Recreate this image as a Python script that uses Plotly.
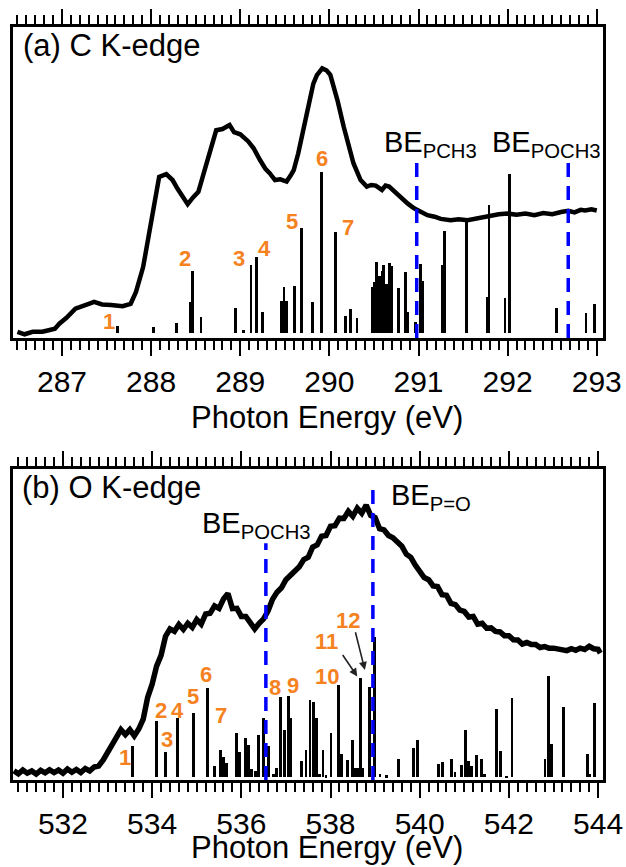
import plotly.graph_objects as go

# ---------------- (a) C K-edge ----------------
c_energy = [286.50, 286.58, 286.67, 286.78, 286.85, 286.92, 286.97, 287.05, 287.15, 287.22,
            287.30, 287.36, 287.45, 287.55, 287.68, 287.77, 287.83, 287.91, 288.02, 288.09,
            288.17, 288.24, 288.30, 288.34, 288.41, 288.47, 288.53, 288.60, 288.66, 288.73,
            288.80, 288.88, 288.93, 289.00, 289.09, 289.15, 289.22, 289.28, 289.33, 289.39,
            289.45, 289.52, 289.57, 289.60, 289.65, 289.73, 289.78, 289.82, 289.86, 289.92,
            289.97, 290.01, 290.05, 290.09, 290.16, 290.22, 290.27, 290.35, 290.42, 290.47,
            290.52, 290.59, 290.63, 290.67, 290.73, 290.80, 290.88, 290.95, 291.02, 291.10,
            291.18, 291.25, 291.36, 291.45, 291.55, 291.65, 291.78, 291.90, 292.00, 292.10,
            292.20, 292.30, 292.40, 292.50, 292.60, 292.68, 292.75, 292.82, 292.87, 292.94,
            293.00]
c_intensity = [0.020, 0.012, 0.020, 0.020, 0.025, 0.030, 0.046, 0.065, 0.094, 0.100,
               0.110, 0.116, 0.108, 0.106, 0.102, 0.110, 0.148, 0.228, 0.400, 0.518,
               0.527, 0.508, 0.478, 0.462, 0.430, 0.452, 0.470, 0.540, 0.604, 0.668,
               0.672, 0.685, 0.662, 0.655, 0.632, 0.610, 0.573, 0.545, 0.530, 0.508,
               0.510, 0.503, 0.525, 0.540, 0.593, 0.690, 0.765, 0.818, 0.845, 0.867,
               0.860, 0.846, 0.810, 0.765, 0.680, 0.610, 0.562, 0.508, 0.487, 0.492,
               0.490, 0.476, 0.490, 0.487, 0.470, 0.454, 0.432, 0.417, 0.405, 0.395,
               0.390, 0.383, 0.379, 0.382, 0.379, 0.385, 0.390, 0.398, 0.400, 0.396,
               0.400, 0.395, 0.402, 0.398, 0.405, 0.409, 0.404, 0.412, 0.410, 0.414,
               0.410]

c_stick_energy = [287.62, 288.03, 288.28, 288.44, 288.46, 288.56, 288.95, 289.04, 289.12, 289.18,
                  289.25, 289.46, 289.49, 289.52, 289.61, 289.69, 289.81, 289.91, 290.07, 290.18,
                  290.24, 290.31, 290.48, 290.51, 290.53, 290.56, 290.59, 290.61, 290.64, 290.67,
                  290.70, 290.78, 290.85, 290.88, 290.97, 291.02, 291.05, 291.27, 291.29, 291.54,
                  291.77, 291.79, 291.97, 292.02, 292.55, 292.88, 292.97]
c_stick_top = [0.039, 0.036, 0.047, 0.117, 0.216, 0.069, 0.095, 0.025, 0.235, 0.259,
               0.084, 0.118, 0.164, 0.118, 0.168, 0.355, 0.117, 0.535, 0.342, 0.070,
               0.093, 0.064, 0.165, 0.180, 0.245, 0.200, 0.215, 0.235, 0.175, 0.240,
               0.230, 0.160, 0.213, 0.085, 0.052, 0.238, 0.183, 0.235, 0.344, 0.374,
               0.133, 0.428, 0.128, 0.527, 0.095, 0.079, 0.108]

c_peak_labels = ["1", "2", "3", "4", "5", "6", "7"]
c_peak_label_x = [287.53, 288.38, 288.99, 289.27, 289.58, 289.92, 290.21]
c_peak_label_y = [0.052, 0.256, 0.257, 0.289, 0.376, 0.576, 0.354]

c_be_labels = ["BE<sub>PCH3</sub>", "BE<sub>POCH3</sub>"]
c_be_energy = [290.98, 292.68]
c_be_line_top = [0.567, 0.567]
c_be_text_x = [290.59, 291.80]
c_be_text_y = [0.624, 0.624]

# ---------------- (b) O K-edge ----------------
o_energy = [530.9, 531.0, 531.1, 531.2, 531.3, 531.4, 531.5, 531.6, 531.7, 531.8,
            531.9, 532.0, 532.1, 532.2, 532.3, 532.4, 532.5, 532.6, 532.7, 532.8,
            532.9, 533.0, 533.1, 533.2, 533.3, 533.4, 533.5, 533.6, 533.7, 533.8,
            533.9, 534.0, 534.1, 534.2, 534.3, 534.4, 534.5, 534.6, 534.7, 534.8,
            534.9, 535.0, 535.1, 535.2, 535.3, 535.4, 535.5, 535.6, 535.7, 535.8,
            535.9, 536.0, 536.1, 536.2, 536.3, 536.4, 536.5, 536.6, 536.7, 536.8,
            536.9, 537.0, 537.1, 537.2, 537.3, 537.4, 537.5, 537.6, 537.7, 537.8,
            537.9, 538.0, 538.1, 538.2, 538.3, 538.4, 538.5, 538.6, 538.7, 538.8,
            538.9, 539.0, 539.1, 539.2, 539.3, 539.4, 539.5, 539.6, 539.7, 539.8,
            539.9, 540.0, 540.1, 540.2, 540.3, 540.4, 540.5, 540.6, 540.7, 540.8,
            540.9, 541.0, 541.1, 541.2, 541.3, 541.4, 541.5, 541.6, 541.7, 541.8,
            541.9, 542.0, 542.1, 542.2, 542.3, 542.4, 542.5, 542.6, 542.7, 542.8,
            542.9, 543.0, 543.1, 543.2, 543.3, 543.4, 543.5, 543.6, 543.7, 543.8,
            543.9, 544.0, 544.05]
o_intensity = [0.030, 0.020, 0.032, 0.022, 0.029, 0.019, 0.031, 0.023, 0.033, 0.024,
               0.032, 0.022, 0.035, 0.025, 0.034, 0.024, 0.037, 0.029, 0.042, 0.045,
               0.064, 0.088, 0.114, 0.138, 0.162, 0.146, 0.162, 0.142, 0.164, 0.196,
               0.266, 0.308, 0.366, 0.401, 0.462, 0.486, 0.478, 0.500, 0.484, 0.504,
               0.491, 0.516, 0.501, 0.534, 0.536, 0.560, 0.552, 0.582, 0.600, 0.551,
               0.552, 0.526, 0.526, 0.506, 0.486, 0.504, 0.518, 0.544, 0.581, 0.604,
               0.618, 0.644, 0.658, 0.676, 0.686, 0.709, 0.716, 0.749, 0.756, 0.784,
               0.786, 0.816, 0.818, 0.842, 0.841, 0.864, 0.848, 0.874, 0.858, 0.884,
               0.851, 0.844, 0.808, 0.804, 0.786, 0.779, 0.766, 0.752, 0.726, 0.716,
               0.691, 0.672, 0.651, 0.644, 0.624, 0.622, 0.596, 0.594, 0.568, 0.564,
               0.546, 0.542, 0.524, 0.526, 0.501, 0.504, 0.488, 0.489, 0.478, 0.476,
               0.464, 0.464, 0.451, 0.450, 0.437, 0.442, 0.436, 0.436, 0.426, 0.429,
               0.424, 0.424, 0.420, 0.420, 0.416, 0.422, 0.417, 0.424, 0.420, 0.430,
               0.422, 0.420, 0.408]

o_stick_energy = [533.56, 534.09, 534.30, 534.57, 534.92, 535.24, 535.39, 535.54, 535.60, 535.67,
                  535.90, 535.95, 536.10, 536.16, 536.23, 536.31, 536.38, 536.49, 536.61, 536.72,
                  536.78, 536.87, 536.96, 537.05, 537.11, 537.35, 537.45, 537.54, 537.61, 537.69,
                  537.75, 537.83, 537.90, 538.01, 538.18, 538.24, 538.39, 538.49, 538.54, 538.61,
                  538.68, 538.72, 538.87, 538.98, 539.11, 539.25, 539.52, 539.86, 539.95, 540.42,
                  540.52, 540.72, 540.79, 540.94, 541.02, 541.09, 541.17, 541.28, 541.39, 541.45,
                  541.73, 541.82, 541.94, 542.07, 542.81, 542.89, 542.96, 543.22, 543.76, 543.82,
                  543.91]
o_stick_top = [0.109, 0.190, 0.089, 0.198, 0.214, 0.295, 0.045, 0.096, 0.075, 0.056,
               0.150, 0.091, 0.136, 0.113, 0.034, 0.030, 0.145, 0.198, 0.109, 0.020,
               0.040, 0.266, 0.162, 0.270, 0.200, 0.060, 0.097, 0.257, 0.252, 0.200,
               0.020, 0.097, 0.015, 0.152, 0.305, 0.085, 0.064, 0.129, 0.040, 0.040,
               0.327, 0.040, 0.300, 0.461, 0.020, 0.015, 0.068, 0.103, 0.127, 0.052,
               0.058, 0.066, 0.025, 0.048, 0.161, 0.062, 0.045, 0.079, 0.066, 0.020,
               0.227, 0.093, 0.010, 0.265, 0.068, 0.334, 0.116, 0.236, 0.085, 0.020,
               0.246]

o_peak_labels = ["1", "2", "3", "4", "5", "6", "7", "8", "9", "10", "11", "12"]
o_peak_label_x = [533.39, 534.19, 534.33, 534.57, 534.92, 535.21, 535.54, 536.75, 537.16, 537.92, 537.92, 538.39]
o_peak_label_y = [0.071, 0.225, 0.129, 0.225, 0.268, 0.338, 0.209, 0.296, 0.305, 0.332, 0.445, 0.514]

o_arrow_tail_x = [538.25, 538.55]
o_arrow_tail_y = [0.407, 0.480]
o_arrow_head_x = [538.60, 538.77]
o_arrow_head_y = [0.333, 0.354]

o_be_labels = ["BE<sub>POCH3</sub>", "BE<sub>P=O</sub>"]
o_be_energy = [536.55, 538.95]
o_be_line_top = [0.761, 0.960]
o_be_text_x = [535.07, 539.30]
o_be_text_y = [0.82, 0.91]

panel_titles = ["(a) C K-edge", "(b) O K-edge"]
x_title = "Photon Energy (eV)"

# ---------------- styles ----------------
FONT = "Liberation Sans, Arial, sans-serif"
ORANGE = "#F5821F"
BLUE = "#0000FF"
C_BASE = 0.016
O_BASE = 0.009

fig = go.Figure()

# sticks
fig.add_trace(go.Bar(x=c_stick_energy, y=[t - C_BASE for t in c_stick_top], base=C_BASE,
                     width=0.032, marker=dict(color="black", line=dict(width=0)),
                     xaxis="x", yaxis="y", showlegend=False))
fig.add_trace(go.Bar(x=o_stick_energy, y=[t - O_BASE for t in o_stick_top], base=O_BASE,
                     width=0.064, marker=dict(color="black", line=dict(width=0)),
                     xaxis="x2", yaxis="y2", showlegend=False))

# spectra
fig.add_trace(go.Scatter(x=c_energy, y=c_intensity, mode="lines",
                         line=dict(color="black", width=4.5), xaxis="x", yaxis="y", showlegend=False))
fig.add_trace(go.Scatter(x=o_energy, y=o_intensity, mode="lines",
                         line=dict(color="black", width=5.5), xaxis="x2", yaxis="y2", showlegend=False))

# BE dashed lines
for e, top in zip(c_be_energy, c_be_line_top):
    fig.add_trace(go.Scatter(x=[e, e], y=[0, top], mode="lines",
                             line=dict(color=BLUE, width=3.5, dash="14px,9px"),
                             xaxis="x", yaxis="y", showlegend=False))
for e, top in zip(o_be_energy, o_be_line_top):
    fig.add_trace(go.Scatter(x=[e, e], y=[0, top], mode="lines",
                             line=dict(color=BLUE, width=3.5, dash="14px,9px"),
                             xaxis="x2", yaxis="y2", showlegend=False))

annotations = []
# panel titles
annotations.append(dict(x=286.54, y=0.942, xref="x", yref="y", text=panel_titles[0],
                        showarrow=False, xanchor="left", yanchor="middle",
                        font=dict(family=FONT, size=31, color="black")))
annotations.append(dict(x=531.04, y=0.939, xref="x2", yref="y2", text=panel_titles[1],
                        showarrow=False, xanchor="left", yanchor="middle",
                        font=dict(family=FONT, size=31, color="black")))
# x-axis titles (placed as paper annotations for exact position)
for ty in [0.482, -0.089]:
    annotations.append(dict(x=0.532, y=ty, xref="paper", yref="paper", text=x_title,
                            showarrow=False, xanchor="center", yanchor="middle",
                            font=dict(family=FONT, size=31, color="black")))
# peak labels
for t, x, y in zip(c_peak_labels, c_peak_label_x, c_peak_label_y):
    annotations.append(dict(x=x, y=y, xref="x", yref="y", text=f"<b>{t}</b>", showarrow=False,
                            xanchor="center", yanchor="middle",
                            font=dict(family=FONT, size=22, color=ORANGE)))
for t, x, y in zip(o_peak_labels, o_peak_label_x, o_peak_label_y):
    annotations.append(dict(x=x, y=y, xref="x2", yref="y2", text=f"<b>{t}</b>", showarrow=False,
                            xanchor="center", yanchor="middle",
                            font=dict(family=FONT, size=22, color=ORANGE)))
# arrows
for tx, ty, hx, hy in zip(o_arrow_tail_x, o_arrow_tail_y, o_arrow_head_x, o_arrow_head_y):
    annotations.append(dict(x=hx, y=hy, ax=tx, ay=ty, xref="x2", yref="y2", axref="x2", ayref="y2",
                            text="", showarrow=True, arrowhead=2, arrowsize=1, arrowwidth=1.6,
                            arrowcolor="#222222"))
# BE labels
for t, x, y in zip(c_be_labels, c_be_text_x, c_be_text_y):
    annotations.append(dict(x=x, y=y, xref="x", yref="y", text=t, showarrow=False,
                            xanchor="left", yanchor="middle",
                            font=dict(family=FONT, size=29, color="black")))
for t, x, y in zip(o_be_labels, o_be_text_x, o_be_text_y):
    annotations.append(dict(x=x, y=y, xref="x2", yref="y2", text=t, showarrow=False,
                            xanchor="left", yanchor="middle",
                            font=dict(family=FONT, size=29, color="black")))

def xaxis_style(rng, dtick, minor_dtick, anchor, domain):
    return dict(range=rng, domain=domain, anchor=anchor, dtick=dtick, tick0=0,
                showline=True, linecolor="black", linewidth=3, mirror="ticks",
                ticks="outside", ticklen=15, tickwidth=2.2, tickcolor="black",
                minor=dict(dtick=minor_dtick, ticks="outside", ticklen=9, tickwidth=1.8,
                           tickcolor="black", showgrid=False),
                showgrid=False, zeroline=False, automargin=False,
                tickfont=dict(family=FONT, size=30, color="black"))

def yaxis_style(anchor, domain):
    return dict(range=[0, 1], domain=domain, anchor=anchor, showline=True, linecolor="black",
                linewidth=3, mirror=True, ticks="", showticklabels=False, automargin=False,
                showgrid=False, zeroline=False, fixedrange=True)

fig.update_layout(
    width=626, height=867,
    margin=dict(l=13, r=23, t=27, b=87, autoexpand=False),
    paper_bgcolor="white", plot_bgcolor="white",
    xaxis=xaxis_style([286.45, 293.07], 1, 0.1, "y", [0, 1]),
    yaxis=yaxis_style("x", [0.587, 1.0]),
    xaxis2=xaxis_style([530.88, 544.11], 2, 0.2, "y2", [0, 1]),
    yaxis2=yaxis_style("x2", [0.0, 0.413]),
    annotations=annotations,
    bargap=0, showlegend=False,
)

fig.write_html("out.html", config={"displayModeBar": False},
               post_script="document.body.style.margin='0px';document.body.style.padding='0px';")
